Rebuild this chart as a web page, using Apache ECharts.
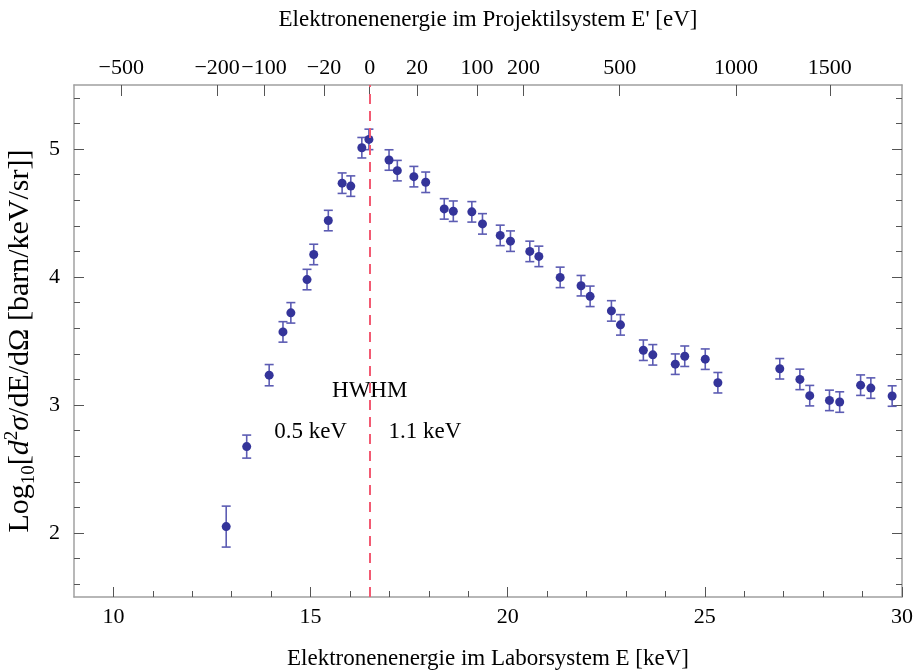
<!DOCTYPE html>
<html><head><meta charset="utf-8">
<script src="https://cdn.jsdelivr.net/npm/echarts@6/dist/echarts.min.js"></script>
<style>html,body{margin:0;padding:0;background:#fff}#c{width:916px;height:671px}</style>
</head><body><div id="c"></div>
<script>
// ---- data ----
const labEnergy = [12.86, 13.38, 13.95, 14.30, 14.50, 14.91, 15.08, 15.45, 15.80, 16.02, 16.30, 16.48,
  16.99, 17.20, 17.62, 17.92, 18.39, 18.62, 19.09, 19.36, 19.81, 20.07, 20.56, 20.79, 21.33, 21.86,
  22.09, 22.63, 22.86, 23.44, 23.68, 24.25, 24.49, 25.01, 25.33, 26.90, 27.41, 27.66, 28.16, 28.42,
  28.95, 29.21, 29.75];
const logCrossSection = [2.05, 2.675, 3.233, 3.571, 3.72, 3.98, 4.176, 4.441, 4.733, 4.71, 5.01, 5.075,
  4.914, 4.831, 4.784, 4.74, 4.532, 4.514, 4.509, 4.415, 4.325, 4.28, 4.20, 4.161, 3.997, 3.932,
  3.849, 3.735, 3.626, 3.428, 3.392, 3.319, 3.381, 3.358, 3.174, 3.283, 3.20, 3.073, 3.036, 3.023,
  3.155, 3.132, 3.07];
const logError = [0.16, 0.09, 0.083, 0.08, 0.08, 0.08, 0.08, 0.08, 0.08, 0.08, 0.08, 0.08,
  0.08, 0.08, 0.08, 0.08, 0.08, 0.08, 0.08, 0.08, 0.08, 0.08, 0.08, 0.08, 0.08, 0.08,
  0.08, 0.08, 0.08, 0.08, 0.08, 0.08, 0.08, 0.08, 0.08, 0.08, 0.08, 0.08, 0.08, 0.08,
  0.08, 0.08, 0.08];
const bottomMajorTicks = [10, 15, 20, 25, 30];
const bottomMinorTicks = [11, 12, 13, 14, 16, 17, 18, 19, 21, 22, 23, 24, 26, 27, 28, 29];
const leftMajorTicks = [2, 3, 4, 5];
const leftMinorTicks = [1.6, 1.8, 2.2, 2.4, 2.6, 2.8, 3.2, 3.4, 3.6, 3.8, 4.2, 4.4, 4.6, 4.8, 5.2, 5.4];
const topTickPositions = [10.2, 12.63, 13.82, 15.34, 16.5, 17.7, 19.22, 20.4, 22.84, 25.79, 28.17];
const topTickLabels = ['\u2212500', '\u2212200', '\u2212100', '\u221220', '0', '20', '100', '200', '500', '1000', '1500'];
const cuspEnergy = 16.5;
const hwhmTexts = ['HWHM', '0.5 keV', '1.1 keV'];

// ---- chart ----
const FONT = 'Liberation Serif';
const FRAME = '#a0a0a0';
const TICK = '#555';
const chart = echarts.init(document.getElementById('c'), null, {renderer: 'canvas'});

function hiddenAxis(extra) {
  return Object.assign({
    type: 'value', axisLine: {show: false, onZero: false},
    axisLabel: {show: false}, splitLine: {show: false}
  }, extra);
}

const option = {
  animation: false,
  backgroundColor: '#fff',
  grid: {left: 74, right: 14, top: 85, bottom: 74, containLabel: false, outerBoundsMode: 'none'},
  xAxis: [
    {
      type: 'value', position: 'bottom', min: 9, max: 30,
      axisLine: {show: true, onZero: false, lineStyle: {color: FRAME, width: 1.5}},
      axisTick: {show: true, inside: true, length: 10, customValues: bottomMajorTicks, lineStyle: {color: TICK}},
      axisLabel: {customValues: bottomMajorTicks, fontFamily: FONT, fontSize: 22, color: '#000', margin: 9},
      splitLine: {show: false},
      name: 'Elektronenenergie im Laborsystem E [keV]', nameLocation: 'middle', nameGap: 50,
      nameTextStyle: {fontFamily: FONT, fontSize: 23, color: '#000'}
    },
    hiddenAxis({position: 'bottom', min: 9, max: 30,
      axisTick: {show: true, inside: true, length: 6, customValues: bottomMinorTicks, lineStyle: {color: TICK}}}),
    {
      type: 'value', position: 'top', min: 9, max: 30,
      axisLine: {show: true, onZero: false, lineStyle: {color: FRAME, width: 1.5}},
      axisTick: {show: true, inside: true, length: 11, customValues: topTickPositions, lineStyle: {color: TICK}},
      axisLabel: {
        customValues: topTickPositions, fontFamily: FONT, fontSize: 22, color: '#000', margin: 6,
        formatter: function (v) {
          let best = 0;
          for (let i = 1; i < topTickPositions.length; i++) {
            if (Math.abs(topTickPositions[i] - v) < Math.abs(topTickPositions[best] - v)) best = i;
          }
          return topTickLabels[best];
        }
      },
      splitLine: {show: false},
      name: "Elektronenenergie im Projektilsystem E' [eV]", nameLocation: 'middle', nameGap: 54,
      nameTextStyle: {fontFamily: FONT, fontSize: 23, color: '#000'}
    }
  ],
  yAxis: [
    {
      type: 'value', position: 'left', min: 1.5, max: 5.5,
      axisLine: {show: true, onZero: false, lineStyle: {color: FRAME, width: 1.5}},
      axisTick: {show: true, inside: true, length: 10, customValues: leftMajorTicks, lineStyle: {color: TICK}},
      axisLabel: {customValues: leftMajorTicks, fontFamily: FONT, fontSize: 22, color: '#000', margin: 14},
      splitLine: {show: false},
      name: '{b|Log}{sub|10}{b|[}{i|d}{sup|2}{i|\u03c3}{b|/dE/d\u03a9 [barn/keV/sr]]}',
      nameLocation: 'middle', nameRotate: 90, nameGap: 33,
      nameTextStyle: {
        fontFamily: FONT, fontSize: 30, color: '#000',
        rich: {
          b: {fontFamily: FONT, fontSize: 30, color: '#000', lineHeight: 36},
          i: {fontFamily: FONT, fontSize: 30, color: '#000', fontStyle: 'italic', lineHeight: 36},
          sub: {fontFamily: FONT, fontSize: 19, color: '#000', verticalAlign: 'bottom', lineHeight: 36},
          sup: {fontFamily: FONT, fontSize: 19, color: '#000', verticalAlign: 'top', lineHeight: 36}
        }
      }
    },
    hiddenAxis({position: 'left', min: 1.5, max: 5.5,
      axisTick: {show: true, inside: true, length: 6, customValues: leftMinorTicks, lineStyle: {color: TICK}}}),
    {
      type: 'value', position: 'right', min: 1.5, max: 5.5,
      axisLine: {show: true, onZero: false, lineStyle: {color: FRAME, width: 1.5}},
      axisTick: {show: true, inside: true, length: 10, customValues: leftMajorTicks, lineStyle: {color: TICK}},
      axisLabel: {show: false}, splitLine: {show: false}
    },
    hiddenAxis({position: 'right', min: 1.5, max: 5.5,
      axisTick: {show: true, inside: true, length: 6, customValues: leftMinorTicks, lineStyle: {color: TICK}}})
  ],
  series: [
    {
      type: 'custom', xAxisIndex: 0, yAxisIndex: 0, z: 2, silent: true,
      data: labEnergy.map((e, i) => [e, logCrossSection[i] - logError[i], logCrossSection[i] + logError[i]]),
      renderItem: function (params, api) {
        const lo = api.coord([api.value(0), api.value(1)]);
        const hi = api.coord([api.value(0), api.value(2)]);
        const hw = 4.5;
        const st = {stroke: '#5c5cb3', lineWidth: 1.6};
        return {type: 'group', children: [
          {type: 'line', shape: {x1: lo[0], y1: lo[1], x2: hi[0], y2: hi[1]}, style: st},
          {type: 'line', shape: {x1: lo[0] - hw, y1: lo[1], x2: lo[0] + hw, y2: lo[1]}, style: st},
          {type: 'line', shape: {x1: hi[0] - hw, y1: hi[1], x2: hi[0] + hw, y2: hi[1]}, style: st}
        ]};
      }
    },
    {
      type: 'scatter', xAxisIndex: 0, yAxisIndex: 0, z: 3,
      symbol: 'circle', symbolSize: 9,
      itemStyle: {color: '#34349a', opacity: 1},
      data: labEnergy.map((e, i) => [e, logCrossSection[i]]),
      markLine: {
        silent: true, symbol: ['none', 'none'], z: 4,
        lineStyle: {color: '#f25a72', width: 2, type: [10, 7]},
        label: {show: false},
        data: [{xAxis: cuspEnergy}]
      },
      markPoint: {
        silent: true, symbol: 'circle', symbolSize: 1,
        itemStyle: {color: 'rgba(0,0,0,0)'},
        label: {show: true, position: 'inside', fontFamily: FONT, fontSize: 23, color: '#000', formatter: '{b}'},
        data: [
          {name: hwhmTexts[0], coord: [cuspEnergy, 3.11]},
          {name: hwhmTexts[1], coord: [15.0, 2.79]},
          {name: hwhmTexts[2], coord: [17.9, 2.79]}
        ]
      }
    }
  ]
};
chart.setOption(option);
</script>
</body></html>
